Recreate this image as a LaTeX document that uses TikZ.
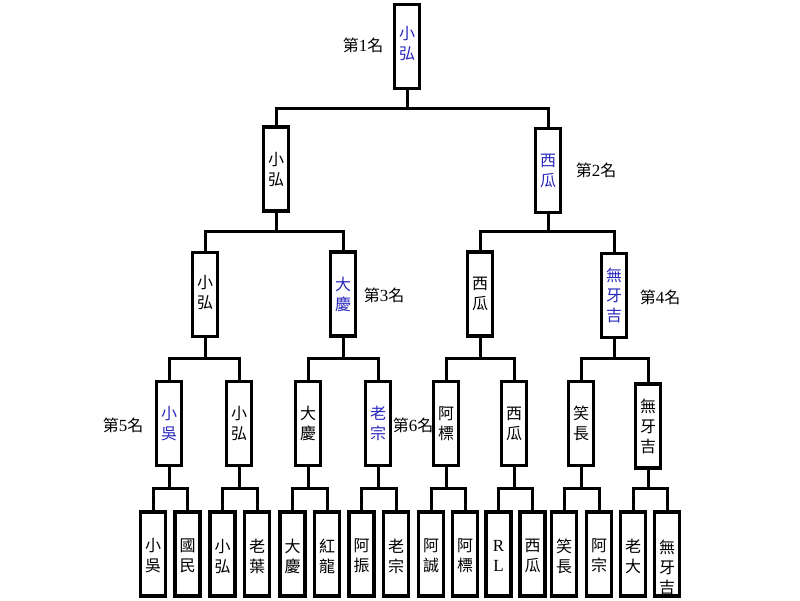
\documentclass[tikz,border=0pt]{standalone}
\usepackage{fontspec}
\newfontfamily\cjk{Noto Sans CJK TC}
\newfontfamily\lat{Liberation Serif}
\definecolor{winblue}{RGB}{40,40,190}
\tikzset{
  box/.style={draw, line width=3.5pt, minimum width=25pt, minimum height=84pt, inner sep=0pt, fill=white},
  vt/.style={align=center, inner sep=0pt, font=\cjk\fontsize{16}{20}\selectfont},
  win/.style={vt, text=winblue},
  rank/.style={inner sep=0pt, font=\cjk\fontsize{16}{18}\selectfont},
  conn/.style={line width=3pt, line join=miter}
}
\newcommand{\rk}[1]{第{\lat\fontsize{17}{18}\selectfont #1}名}
\begin{document}
\begin{tikzpicture}[x=1pt,y=-1pt]
\useasboundingbox (0,0) rectangle (800,600);
% bar heights
\coordinate (y1) at (0,108);
\coordinate (y2) at (0,231);
\coordinate (y3) at (0,358);
\coordinate (y4) at (0,488);
% level 1
\node[box] (T) at (407,46.5) {};
% level 2
\node[box] (A) at (276,169) {};
\node[box] (B) at (548,170.5) {};
% level 3
\node[box] (C1) at (205,294.5) {};
\node[box] (C2) at (343,294) {};
\node[box] (C3) at (480,294) {};
\node[box] (C4) at (614,295.5) {};
% level 4
\node[box] (D1) at (169,423.5) {};
\node[box] (D2) at (239,423.5) {};
\node[box] (D3) at (308,423.5) {};
\node[box] (D4) at (378,423.5) {};
\node[box] (D5) at (446,423.5) {};
\node[box] (D6) at (514,423.5) {};
\node[box] (D7) at (581,423.5) {};
\node[box] (D8) at (648,426) {};
% level 5
\node[box] (E1) at (153,554) {};
\node[box] (E2) at (187.5,554) {};
\node[box] (E3) at (222.5,554) {};
\node[box] (E4) at (257,554) {};
\node[box] (E5) at (292.5,554) {};
\node[box] (E6) at (327,554) {};
\node[box] (E7) at (361.5,554) {};
\node[box] (E8) at (396,554) {};
\node[box] (E9) at (431,554) {};
\node[box] (E10) at (465,554) {};
\node[box] (E11) at (498.5,554) {};
\node[box] (E12) at (532.5,554) {};
\node[box] (E13) at (564,554) {};
\node[box] (E14) at (599,554) {};
\node[box] (E15) at (633,554) {};
\node[box] (E16) at (667,554) {};
% texts
\node[win] (tT) at ([yshift=3pt]T.center) {小\\弘};
\node[vt] (tA) at (A.center) {小\\弘};
\node[win] (tB) at (B.center) {西\\瓜};
\node[vt] (tC1) at ([yshift=2pt]C1.center) {小\\弘};
\node[win] (tC2) at (C2.center) {大\\慶};
\node[vt] (tC3) at (C3.center) {西\\瓜};
\node[win] (tC4) at (C4.center) {無\\牙\\吉};
\node[win] (tD1) at (D1.center) {小\\吳};
\node[vt] (tD2) at (D2.center) {小\\弘};
\node[vt] (tD3) at (D3.center) {大\\慶};
\node[win] (tD4) at (D4.center) {老\\宗};
\node[vt] (tD5) at (D5.center) {阿\\標};
\node[vt] (tD6) at (D6.center) {西\\瓜};
\node[vt] (tD7) at (D7.center) {笑\\長};
\node[vt] (tD8) at (D8.center) {無\\牙\\吉};
\node[vt] (tE1) at ([yshift=-2pt]E1.center) {小\\吳};
\node[vt] (tE2) at ([yshift=-2pt]E2.center) {國\\民};
\node[vt] (tE3) at ([yshift=-2pt]E3.center) {小\\弘};
\node[vt] (tE4) at ([yshift=-2pt]E4.center) {老\\葉};
\node[vt] (tE5) at ([yshift=-2pt]E5.center) {大\\慶};
\node[vt] (tE6) at ([yshift=-2pt]E6.center) {紅\\龍};
\node[vt] (tE7) at ([yshift=-2pt]E7.center) {阿\\振};
\node[vt] (tE8) at ([yshift=-2pt]E8.center) {老\\宗};
\node[vt] (tE9) at ([yshift=-2pt]E9.center) {阿\\誠};
\node[vt] (tE10) at ([yshift=-2pt]E10.center) {阿\\標};
\node[vt, font=\lat\fontsize{17}{20}\selectfont] (tE11) at ([yshift=-2pt]E11.center) {R\\L};
\node[vt] (tE12) at ([yshift=-2pt]E12.center) {西\\瓜};
\node[vt] (tE13) at ([yshift=-2pt]E13.center) {笑\\長};
\node[vt] (tE14) at ([yshift=-2pt]E14.center) {阿\\宗};
\node[vt] (tE15) at ([yshift=-2pt]E15.center) {老\\大};
\node[vt] (tE16) at ([yshift=-13pt]E16.center) {無\\牙\\吉};
% rank labels
\node[rank] (r1) at (363,45) {\rk{1}};
\node[rank] (r2) at (596,170) {\rk{2}};
\node[rank] (r3) at (384,295) {\rk{3}};
\node[rank] (r4) at (660,297) {\rk{4}};
\node[rank] (r5) at (123,425) {\rk{5}};
\node[rank] (r6) at (413,425) {\rk{6}};
% connectors
\begin{scope}[conn]
\draw (T.south) -- (T.south |- y1);
\draw (A.north) -- (A.north |- y1) -- (B.north |- y1) -- (B.north);
\draw (A.south) -- (A.south |- y2);
\draw (C1.north) -- (C1.north |- y2) -- (C2.north |- y2) -- (C2.north);
\draw (B.south) -- (B.south |- y2);
\draw (C3.north) -- (C3.north |- y2) -- (C4.north |- y2) -- (C4.north);
\foreach \p/\a/\b in {C1/D1/D2, C2/D3/D4, C3/D5/D6, C4/D7/D8}{
  \draw (\p.south) -- (\p.south |- y3);
  \draw (\a.north) -- (\a.north |- y3) -- (\b.north |- y3) -- (\b.north);
}
\foreach \p/\a/\b in {D1/E1/E2, D2/E3/E4, D3/E5/E6, D4/E7/E8, D5/E9/E10, D6/E11/E12, D7/E13/E14, D8/E15/E16}{
  \draw (\p.south) -- (\p.south |- y4);
  \draw (\a.north) -- (\a.north |- y4) -- (\b.north |- y4) -- (\b.north);
}
\end{scope}
\end{tikzpicture}
\end{document}
